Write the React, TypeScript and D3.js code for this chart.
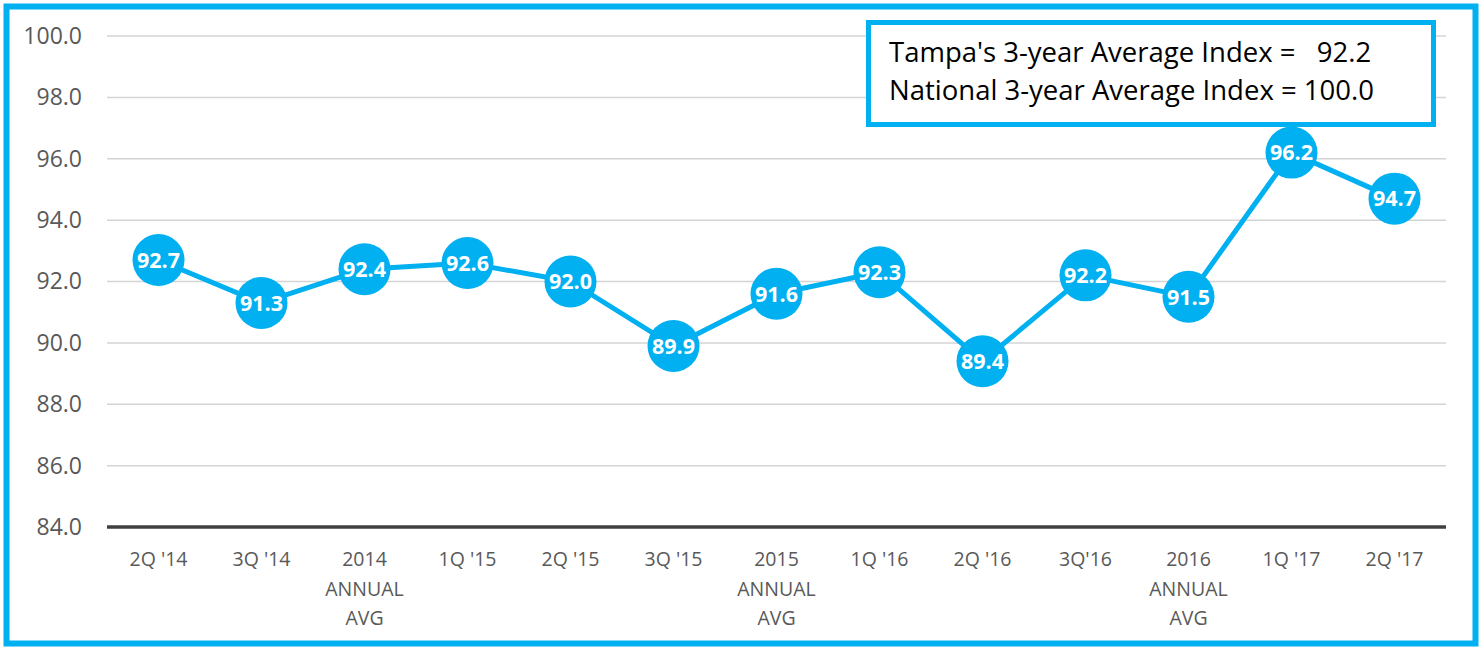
import { useEffect, useRef } from "react";
import * as d3 from "d3";

const categories = [
  "2Q '14", "3Q '14", "2014\nANNUAL\nAVG", "1Q '15", "2Q '15", "3Q '15",
  "2015\nANNUAL\nAVG", "1Q '16", "2Q '16", "3Q'16", "2016\nANNUAL\nAVG", "1Q '17", "2Q '17",
];
const indexValues = [92.7, 91.3, 92.4, 92.6, 92.0, 89.9, 91.6, 92.3, 89.4, 92.2, 91.5, 96.2, 94.7];
const yTicks = [84, 86, 88, 90, 92, 94, 96, 98, 100];
const noteLines = ["Tampa's 3-year Average Index =   92.2", "National 3-year Average Index = 100.0"];

const W = 1482;
const H = 648;
const CYAN = "#00B0F0";
const FONT = "'Open Sans', 'Noto Sans', sans-serif";

export default function App() {
  const ref = useRef<SVGSVGElement | null>(null);

  useEffect(() => {
    if (!ref.current) return;
    const svg = d3.select(ref.current);
    svg.selectAll("*").remove();

    const x = d3.scaleBand<string>().domain(categories).range([107, 1446]);
    const y = d3.scaleLinear().domain([84, 100]).range([527, 36]);

    // outer frame
    svg
      .append("rect")
      .attr("x", 6.5)
      .attr("y", 6.5)
      .attr("width", W - 13)
      .attr("height", H - 11)
      .attr("fill", "#fff")
      .attr("stroke", CYAN)
      .attr("stroke-width", 6);

    // gridlines
    svg
      .append("g")
      .selectAll("line")
      .data(yTicks.filter((t) => t !== 84))
      .join("line")
      .attr("x1", 107)
      .attr("x2", 1446)
      .attr("y1", (d) => y(d))
      .attr("y2", (d) => y(d))
      .attr("stroke", "#d4d4d4")
      .attr("stroke-width", 1.5);

    // y axis labels
    const yAxis = d3
      .axisLeft(y)
      .tickValues(yTicks)
      .tickFormat((d) => d3.format(".1f")(d as number))
      .tickSize(0)
      .tickPadding(0);
    const yg = svg.append("g").attr("transform", "translate(82,0)").call(yAxis);
    yg.select(".domain").remove();
    yg.selectAll("text")
      .attr("font-family", FONT)
      .attr("font-size", 23)
      .attr("fill", "#595959");

    // baseline
    svg
      .append("line")
      .attr("x1", 107)
      .attr("x2", 1446)
      .attr("y1", y(84))
      .attr("y2", y(84))
      .attr("stroke", "#404040")
      .attr("stroke-width", 3.5);

    // x labels
    const xg = svg
      .append("g")
      .selectAll("text")
      .data(categories)
      .join("text")
      .attr("x", (d) => x(d)! + x.bandwidth() / 2)
      .attr("y", 566)
      .attr("text-anchor", "middle")
      .attr("font-family", FONT)
      .attr("font-size", 19.5)
      .attr("fill", "#595959");
    xg.each(function (d) {
      const t = d3.select(this);
      d.split("\n").forEach((line, i) => {
        t.append("tspan")
          .attr("x", x(d)! + x.bandwidth() / 2)
          .attr("dy", i === 0 ? 0 : 29.5)
          .text(line);
      });
    });

    // line
    const pts = categories.map((c, i) => [x(c)! + x.bandwidth() / 2, y(indexValues[i])] as [number, number]);
    svg
      .append("path")
      .attr("d", d3.line()(pts))
      .attr("fill", "none")
      .attr("stroke", CYAN)
      .attr("stroke-width", 5)
      .attr("stroke-linejoin", "round");

    // legend note box (drawn before markers so 96.2 overlaps it)
    svg
      .append("rect")
      .attr("x", 868.5)
      .attr("y", 22.5)
      .attr("width", 565)
      .attr("height", 102)
      .attr("fill", "#fff")
      .attr("stroke", CYAN)
      .attr("stroke-width", 5);
    svg
      .append("g")
      .selectAll("text")
      .data(noteLines)
      .join("text")
      .attr("x", 889)
      .attr("y", (_, i) => 62 + i * 38)
      .attr("font-family", FONT)
      .attr("font-size", 27.5)
      .attr("fill", "#000")
      .attr("xml:space", "preserve")
      .style("white-space", "pre")
      .text((d) => d);

    // markers
    const m = svg.append("g").selectAll("g").data(pts).join("g")
      .attr("transform", (d) => `translate(${d[0]},${d[1]})`);
    m.append("circle").attr("r", 26).attr("fill", CYAN);
    m.append("text")
      .attr("text-anchor", "middle")
      .attr("dy", "0.36em")
      .attr("font-family", FONT)
      .attr("font-size", 21.5)
      .attr("font-weight", "bold")
      .attr("fill", "#fff")
      .text((_, i) => d3.format(".1f")(indexValues[i]));
  }, []);

  return (
    <svg
      ref={ref}
      width={W}
      height={H}
      style={{ position: "absolute", left: 0, top: 0, display: "block" }}
    />
  );
}
